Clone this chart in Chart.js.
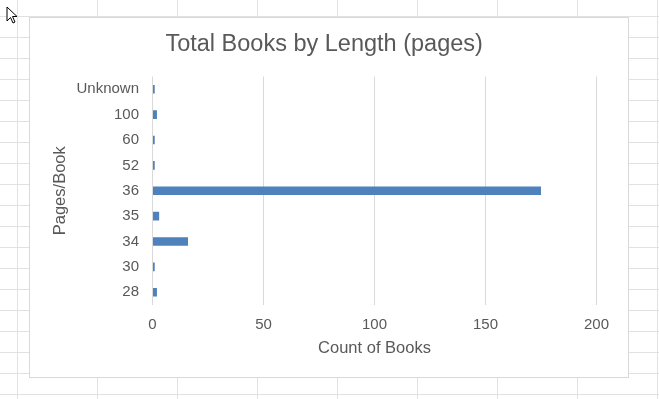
<!DOCTYPE html>
<html>
<head>
<meta charset="utf-8">
<script src="https://cdn.jsdelivr.net/npm/chart.js@4/dist/chart.umd.min.js"></script>
<style>
    html, body { margin: 0; padding: 0; }
    body {
        width: 659px;
        height: 399px;
        overflow: hidden;
        position: relative;
        background-color: #fff;
        /* celdas de la hoja de cálculo */
        background-image:
            linear-gradient(to right, #e1e1e1 1px, transparent 1px),
            linear-gradient(to bottom, #e1e1e1 1px, transparent 1px);
        background-size: 80px 21px;
        background-position: 17px 16px;
    }
    #cursor { position: absolute; left: 6px; top: 6px; }
    .chart-box {
        position: absolute;
        left: 29px;
        top: 17px;
        width: 598px;
        height: 359px;
        border: 1px solid #d9d9d9;
        background: #fff;
    }
</style>
</head>
<body>
<svg id="cursor" width="14" height="20" viewBox="0 0 14 20">
    <path d="M1 1 L1 15 L4.5 11.5 L7 17 L9 16 L6.5 10.5 L11 10.5 Z" fill="#fff" stroke="#000" stroke-width="1"/>
</svg>
<div class="chart-box">
    <canvas id="booksChart" width="598" height="359"></canvas>
</div>
<script>
// Datos
const pageLengths = ['Unknown', '100', '60', '52', '36', '35', '34', '30', '28'];
const bookCounts = [1, 2, 1, 1, 175, 3, 16, 1, 2];
const countTicks = [0, 50, 100, 150, 200];

const barColor = '#4f81bd';
const textColor = '#595959';
const gridColor = '#d9d9d9';
const fontFamily = '"Liberation Sans", Arial, sans-serif';

new Chart(document.getElementById('booksChart'), {
    type: 'bar',
    data: {
        labels: pageLengths,
        datasets: [{
            label: 'Count of Books',
            data: bookCounts,
            backgroundColor: barColor,
            barPercentage: 0.34,
            categoryPercentage: 1
        }]
    },
    options: {
        indexAxis: 'y',
        responsive: false,
        animation: false,
        layout: { padding: { top: 14.5, left: 21.75, right: 31.5, bottom: 20.75 } },
        scales: {
            x: {
                min: countTicks[0],
                max: countTicks[countTicks.length - 1],
                afterBuildTicks: (axis) => { axis.ticks = countTicks.map(v => ({ value: v })); },
                afterFit: (axis) => { axis.height = 51.25; },
                grid: { color: gridColor, drawTicks: false },
                border: { display: false },
                ticks: { color: textColor, font: { family: fontFamily, size: 15, lineHeight: 1 }, padding: 12 },
                title: {
                    display: true,
                    text: 'Count of Books',
                    color: textColor,
                    font: { family: fontFamily, size: 16.5, lineHeight: 1 },
                    padding: { top: 8, bottom: 0 }
                }
            },
            y: {
                afterFit: (axis) => { axis.width = 100.75; },
                grid: { display: false, drawTicks: false },
                border: { display: false },
                ticks: { color: textColor, font: { family: fontFamily, size: 15, lineHeight: 1 }, padding: 13.5 },
                title: {
                    display: true,
                    text: 'Pages/Book',
                    color: textColor,
                    font: { family: fontFamily, size: 16.5, lineHeight: 1 },
                    padding: { top: 0, bottom: 9 }
                }
            }
        },
        plugins: {
            legend: { display: false },
            tooltip: { enabled: false },
            title: {
                display: true,
                text: 'Total Books by Length (pages)',
                color: textColor,
                font: { family: fontFamily, size: 23.5, weight: 'normal', lineHeight: 1 },
                padding: { top: 0, bottom: 20.5 }
            }
        }
    }
});
</script>
</body>
</html>
